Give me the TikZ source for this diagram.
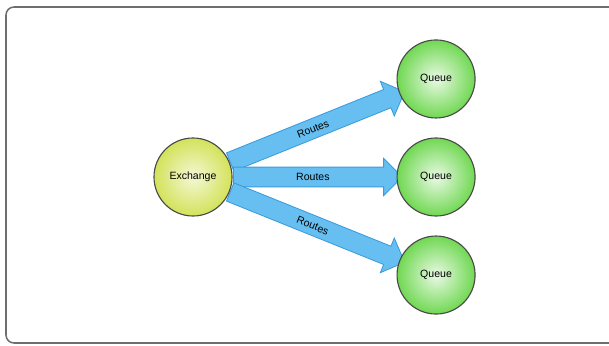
\documentclass[tikz,border=0pt]{standalone}
\usepackage{fontspec}
\setmainfont{Liberation Sans}
\usepackage{tikz}
\usetikzlibrary{positioning}
\usetikzlibrary{shapes.arrows}
\usetikzlibrary{backgrounds}
\definecolor{exfill}{HTML}{D3E25A}
\definecolor{qfill}{HTML}{70D852}
\definecolor{routefill}{HTML}{66BFF0}
\definecolor{routeline}{HTML}{3A9BDC}
\definecolor{rim}{HTML}{4A4A4A}
\definecolor{cadregris}{HTML}{6E6E6E}
\tikzset{
    boule/.style = {circle, draw=rim, line width=0.8pt, minimum size=1.95cm,
        inner sep=0pt, on grid, font=\fontsize{7.5}{9}\selectfont},
    echange/.style = {shading=radial, inner color=white!75!exfill, outer color=exfill},
    file/.style = {shading=radial, inner color=white!85!qfill, outer color=qfill},
    route/.style = {single arrow, draw=routeline, fill=routefill, line width=0.6pt,
        sloped, single arrow head extend=0.22cm, single arrow head indent=0pt,
        inner xsep=0pt, inner ysep=3.9pt, text height=5.6pt, text depth=0pt,
        font=\fontsize{7.5}{9}\selectfont},
    cadre/.style = {draw=cadregris, line width=1.1pt, rounded corners=0.2cm}
}

\begin{document}
\begin{tikzpicture}[x=0.025cm, y=-0.025cm, node distance=2.45cm and 6.075cm]
    \useasboundingbox (0,0) rectangle (609,346);
    \clip (0,0) rectangle (609,346);
    \draw[cadre] (6,7) rectangle (650,343);
    \node (X) [boule, echange] at (193,177) {Exchange};
    \node (Q2) [boule, file, right=of X] {Queue};
    \node (Q1) [boule, file, above=of Q2] {Queue};
    \node (Q3) [boule, file, below=of Q2] {Queue};
    \begin{scope}[on background layer]
        \path (X) -- node[route, minimum height=4.7cm, pos=0.49] {Routes} (Q1);
        \path (X) -- node[route, minimum height=4.22cm, pos=0.49] {Routes} (Q2);
        \path (X) -- node[route, minimum height=4.7cm, pos=0.49] {Routes} (Q3);
    \end{scope}
\end{tikzpicture}
\end{document}
